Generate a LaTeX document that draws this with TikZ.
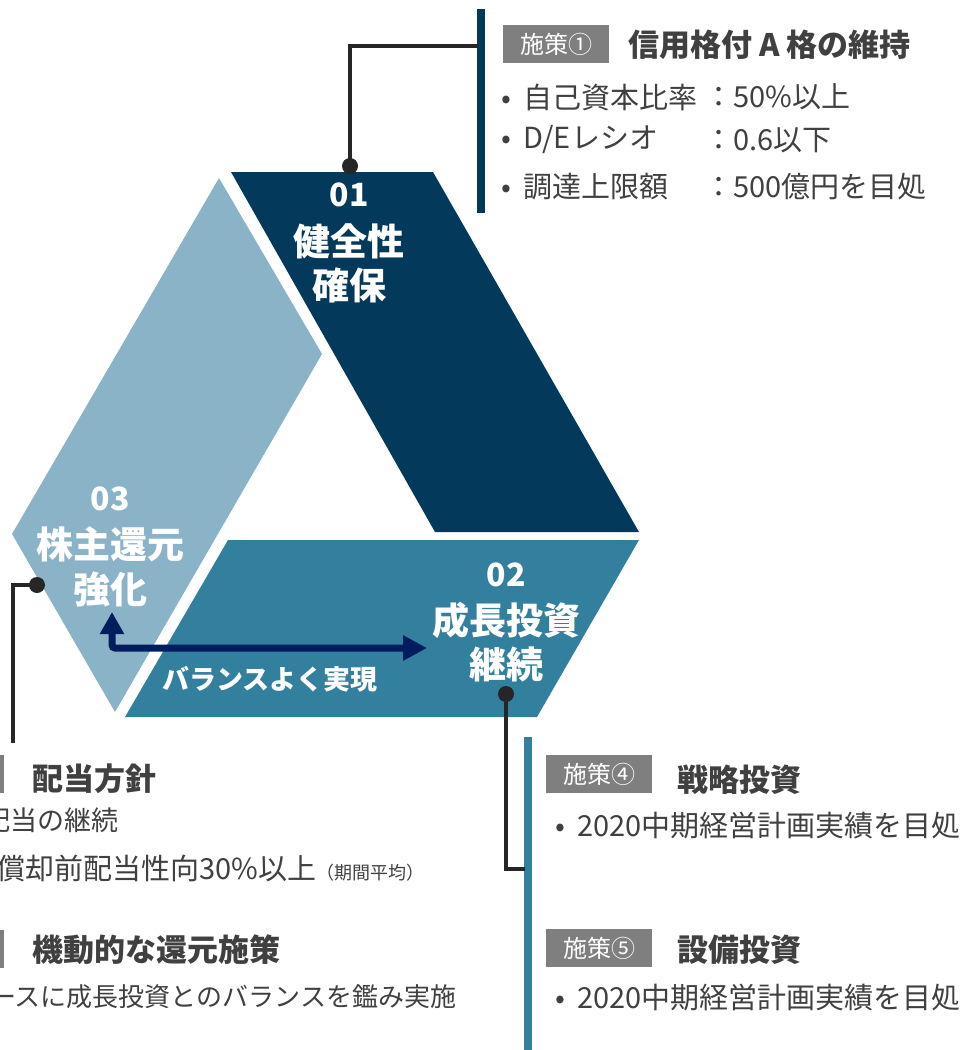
\documentclass[tikz,border=0pt]{standalone}
\usepackage{fontspec}
\setmainfont{Noto Sans CJK JP}
\usetikzlibrary{arrows.meta}

\definecolor{navy}{HTML}{03395A}
\definecolor{midblue}{HTML}{337F9E}
\definecolor{lightblue}{HTML}{8BB3C8}
\definecolor{arrowblue}{HTML}{001E5E}
\definecolor{tagGray}{HTML}{7F7F7F}
\definecolor{txtGray}{HTML}{404040}
\definecolor{lineGray}{HTML}{262626}

\newcommand{\fs}[1]{\fontsize{#1}{#1}\selectfont}
\newcommand{\bul}{\makebox[22pt][l]{•}}

\tikzset{
	big/.style={text=white, font=\fs{37}\bfseries, inner sep=0},
	num/.style={text=white, font=\fs{32}\bfseries, inner sep=0},
	tag/.style={fill=tagGray, text=white, font=\fs{24}, minimum width=106, minimum height=38, inner sep=0, anchor=west},
	heading/.style={text=txtGray, font=\fs{31}\bfseries, anchor=west, inner sep=0},
	item/.style={text=txtGray, font=\fs{29}, anchor=west, inner sep=0},
	leftitem/.style={text=txtGray, font=\fs{27}, anchor=west, inner sep=0},
	leader/.style={lineGray, line width=3.2},
	dot/.style={circle, fill=lineGray, inner sep=0, minimum size=16},
}

\begin{document}
\begin{tikzpicture}[x=1pt, y=-1pt]
\useasboundingbox (0,0) rectangle (970,1050);
\clip (0,0) rectangle (970,1050);

\fill[lightblue] (219,178) -- (322,354) -- (115,712) -- (12,534) -- cycle;
\fill[navy] (231,172) -- (433,172) -- (639,532) -- (435,532) -- cycle;
\fill[midblue] (228,540) -- (639,540) -- (537,717) -- (125,717) -- cycle;

\node[num] (n01) at (349,195) {01};
\node[big] (a01) at (349,241) {健全性};
\node[big] (b01) at (349,285) {確保};
\node[num] (n02) at (506,575) {02};
\node[big] (a02) at (506,620) {成長投資};
\node[big] (b02) at (506,664) {継続};
\node[num] (n03) at (110,499) {03};
\node[big] (a03) at (110,544) {株主還元};
\node[big] (b03) at (110,589) {強化};

\coordinate (arrUp) at (112,612);
\coordinate (arrRt) at (427,648);
\draw[arrowblue, line width=7, rounded corners=3, {Triangle[width=23pt,length=22pt]}-{Triangle[width=24pt,length=24pt]}] (arrUp) |- (arrRt);
\node[text=white, font=\fs{27}\bfseries, anchor=west, inner sep=0] (bal) at (162,679) {バランスよく実現};

% 施策1
\draw[navy, line width=8] (481,9) -- (481,213);
\node[dot] (dot1) at (350,166) {};
\coordinate (c1) at (478,46);
\draw[leader] (dot1.center) |- (c1);
\node[tag] (tag1) at (503,44) {施策①};
\node[heading] (ttl1) at (628,45) {信用格付 A 格の維持};
\foreach \y/\l/\r in {
	97/自己資本比率/50\%以上,
	140/{D/Eレシオ}/0.6以下,
	187/調達上限額/500億円を目処}
{
	\node[item] (l\y) at (501,\y) {\bul\l};
	\node[item] (r\y) at (704,\y) {：\r};
}

% 施策4, 5
\draw[midblue, line width=8] (528,737) -- (528,1050);
\node[dot] (dot2) at (506,694) {};
\coordinate (c2) at (525,869);
\draw[leader] (dot2.center) |- (c2);
\node[tag] (tag4) at (546,774) {施策④};
\node[heading] (ttl4) at (677,780) {戦略投資};
\node[item] (itm4) at (555,825) {\bul 2020中期経営計画実績を目処};
\node[tag] (tag5) at (546,948) {施策⑤};
\node[heading] (ttl5) at (677,950) {設備投資};
\node[item] (itm5) at (555,997) {\bul 2020中期経営計画実績を目処};

% 株主還元
\node[dot] (dot3) at (37,585) {};
\coordinate (c3) at (13,743);
\draw[leader] (dot3.center) -| (c3);
\fill[tagGray] (0,755) rectangle (4,793);
\node[heading] (ttl6) at (32,779) {配当方針};
\node[leftitem] (itm6) at (-17,820) {配当の継続};
\node[leftitem, font=\fs{29}] (itm7) at (-4,868) {償却前配当性向30\%以上{\fs{18}（期間平均）}};
\fill[tagGray] (0,930) rectangle (4,968);
\node[heading] (ttl7) at (32,950) {機動的な還元施策};
\node[leftitem, font=\fs{26}] (itm8) at (-10,997) {ースに成長投資とのバランスを鑑み実施};

\end{tikzpicture}
\end{document}
